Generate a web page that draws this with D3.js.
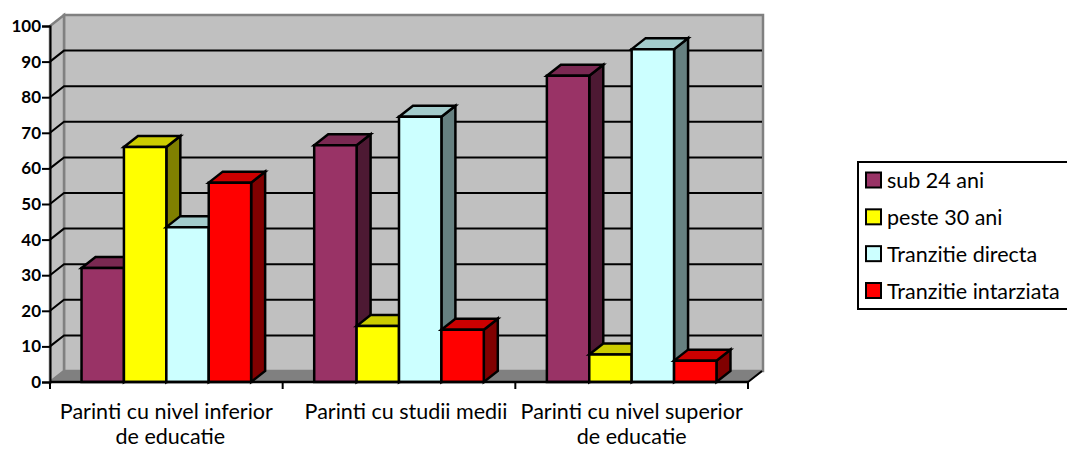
<!DOCTYPE html>
<meta charset="utf-8">
<script src="https://d3js.org/d3.v7.min.js"></script>
<style>
  html, body { margin: 0; background: #fff; }
  svg { display: block; }
  text { font-family: Lato, "Open Sans", sans-serif; fill: #000; }
</style>
<body>
<div id="chart"></div>
<script>
// data
const groups = ["Parinti cu nivel inferior", "Parinti cu studii medii", "Parinti cu nivel superior"];
const groupLine2 = ["de educatie", "", "de educatie"];
const seriesNames = ["sub 24 ani", "peste 30 ani", "Tranzitie directa", "Tranzitie intarziata"];
const subUnder24 = [32, 66.5, 86];
const peste30 = [66, 15.7, 7.7];
const tranzDirecta = [43.5, 74.5, 93.5];
const tranzIntarziata = [56, 14.7, 6];
const yTicks = [0, 10, 20, 30, 40, 50, 60, 70, 80, 90, 100];

const seriesValues = [subUnder24, peste30, tranzDirecta, tranzIntarziata];
const front = ["#993366", "#ffff00", "#ccffff", "#ff0000"];
const top_ = ["#7a2952", "#cccc00", "#a3cccc", "#cc0000"];
const side = ["#4d1933", "#808000", "#668080", "#800000"];

const width = 1067, height = 450;
const left = 50, right = 748, bottom = 382, topY = 26;
const dx = 14, dy = -11; // depth of the 3d box

const svg = d3.select("#chart").append("svg")
  .attr("width", width).attr("height", height);

const x = d3.scaleBand().domain(d3.range(groups.length)).range([left, right]);
const barW = 42.4;
const y = d3.scaleLinear().domain([0, 100]).range([bottom, topY]);

const poly = (pts, fill, stroke, sw) => svg.append("polygon")
  .attr("points", pts.map(p => p.join(",")).join(" "))
  .attr("fill", fill).attr("stroke", stroke).attr("stroke-width", sw)
  .attr("stroke-linejoin", "miter");

// walls
poly([[left + dx, topY + dy], [right + dx + 1, topY + dy], [right + dx + 1, bottom + dy], [left + dx, bottom + dy]], "#c0c0c0", "#808080", 2.5);
poly([[left, topY], [left + dx, topY + dy], [left + dx, bottom + dy], [left, bottom]], "#c0c0c0", "#808080", 2.5);
poly([[left, bottom], [left + dx, bottom + dy], [right + dx + 1, bottom + dy], [right, bottom]], "#808080", "#808080", 1);

// gridlines, back wall and side wall
svg.append("g").selectAll("path")
  .data(yTicks.filter(d => d > 0 && d < 100))
  .join("path")
  .attr("d", d => `M${left},${y(d)}L${left + dx},${y(d) + dy}L${right + dx},${y(d) + dy}`)
  .attr("fill", "none").attr("stroke", "#000").attr("stroke-width", 2);

// axes
const yAxis = svg.append("g")
  .attr("transform", `translate(${left},0)`)
  .call(d3.axisLeft(y).tickValues(yTicks).tickSize(8).tickPadding(1));
yAxis.selectAll("line").attr("stroke", "#000").attr("stroke-width", 2);
yAxis.select(".domain").attr("stroke", "#000").attr("stroke-width", 2);
yAxis.selectAll("text")
  .style("font-family", "Lato, sans-serif")
  .style("font-size", "17px").style("font-weight", "700");

svg.append("g").selectAll("line")
  .data(d3.range(groups.length + 1))
  .join("line")
  .attr("x1", d => left + d * x.bandwidth()).attr("x2", d => left + d * x.bandwidth())
  .attr("y1", bottom).attr("y2", bottom + 7)
  .attr("stroke", "#000").attr("stroke-width", 2);
svg.append("line")
  .attr("x1", right).attr("x2", right + dx).attr("y1", bottom).attr("y2", bottom + dy)
  .attr("stroke", "#000").attr("stroke-width", 2);

// bars, painted left to right so the next bar hides the side of the last
groups.forEach((g, i) => {
  const start = x(i) + (x.bandwidth() - barW * seriesNames.length) / 2;
  seriesValues.forEach((vals, s) => {
    const x0 = start + s * barW, x1 = x0 + barW;
    const yTop = y(vals[i]);
    poly([[x1, yTop], [x1 + dx, yTop + dy], [x1 + dx, bottom + dy], [x1, bottom]], side[s], "#000", 2.5);
    poly([[x0, yTop], [x0 + dx, yTop + dy], [x1 + dx, yTop + dy], [x1, yTop]], top_[s], "#000", 2.5);
    poly([[x0, yTop], [x1, yTop], [x1, bottom], [x0, bottom]], front[s], "#000", 2.5);
  });
});

svg.append("line")
  .attr("x1", left).attr("x2", right).attr("y1", bottom).attr("y2", bottom)
  .attr("stroke", "#000").attr("stroke-width", 2.5);

// category labels, the middle one sits a little right of its band
groups.forEach((g, i) => {
  const cx = x(i) + x.bandwidth() / 2 + (i === 1 ? 7 : 0);
  svg.append("text").attr("x", cx).attr("y", 419).attr("text-anchor", "middle")
    .style("font-size", "21.5px").text(g);
  if (groupLine2[i]) svg.append("text").attr("x", cx + (i === 0 ? 4 : 0)).attr("y", 444).attr("text-anchor", "middle")
    .style("font-size", "21.5px").text(groupLine2[i]);
});

// legend, its right border runs off the picture
svg.append("rect").attr("x", 858).attr("y", 162).attr("width", 230).attr("height", 147)
  .attr("fill", "#fff").attr("stroke", "#000").attr("stroke-width", 2);
const legendY = d3.scalePoint().domain(seriesNames).range([180, 290.5]);
const leg = svg.append("g").selectAll("g").data(seriesNames).join("g")
  .attr("transform", d => `translate(0,${legendY(d)})`);
leg.append("rect").attr("x", 866).attr("y", -7.5).attr("width", 15).attr("height", 15)
  .attr("fill", (d, i) => front[i]).attr("stroke", "#000").attr("stroke-width", 2);
leg.append("text").attr("x", 887).attr("y", 8)
  .style("font-size", "21.5px").text(d => d);
</script>
</body>
</html>
